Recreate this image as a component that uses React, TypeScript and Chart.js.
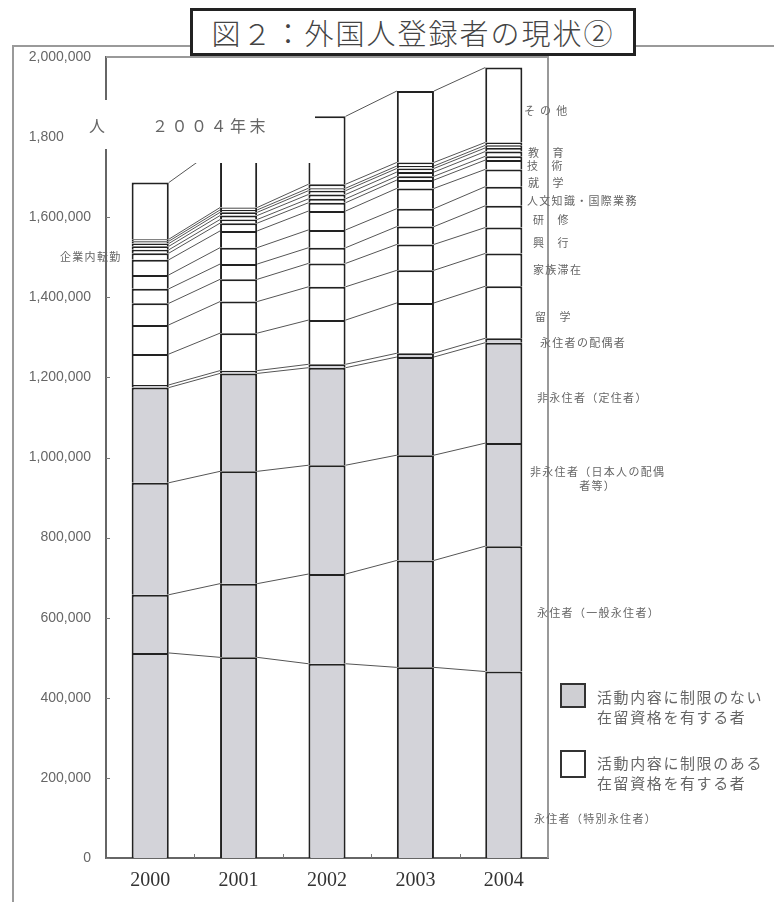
import React, { useEffect, useRef } from 'react';
import { Chart, registerables } from 'chart.js';
Chart.register(...registerables);

const years = ['2000', '2001', '2002', '2003', '2004'];
// 活動内容に制限のない在留資格 (gray)
const tokubetsuEijusha = [512000, 501000, 485000, 476000, 465600];
const ippanEijusha = [145300, 184000, 224000, 267000, 313000];
const nihonjinHaigusha = [279600, 280400, 271700, 262800, 257300];
const teijusha = [237600, 244500, 243500, 245100, 250700];
const eijushaHaigusha = [6700, 7000, 8500, 9400, 11100];
// 活動内容に制限のある在留資格 (white)
const ryugaku = [77000, 93600, 110400, 125600, 129900];
const kazokuTaizai = [72900, 78800, 83100, 81500, 81900];
const kogyo = [53800, 55500, 58400, 64600, 64700];
const kenshu = [36200, 38200, 39100, 44500, 54300];
const jinbun = [34700, 40900, 44500, 44900, 47700];
const shugaku = [37800, 41800, 47200, 50500, 43200];
const gijutsu = [16500, 19400, 20700, 20800, 23200];
const kyoiku = [8400, 9100, 9700, 9400, 9400];
const kigyonai = [8700, 9900, 10900, 10600, 12000];
const gino = [7000, 8000, 9500, 9000, 9000];
const toshiKeiei = [5700, 6000, 6100, 6100, 6400];
const tokuteiKatsudo = [5000, 6000, 10000, 9000, 7300];
const sonota = [141500, 154300, 169500, 178200, 187000];

const yTicks = [0, 200000, 400000, 600000, 800000, 1000000, 1200000, 1400000, 1600000, 1800000, 2000000];

const GRAY = '#d3d3d9';
const WHITE = '#ffffff';

const seriesList: { label: string; data: number[]; fill: string }[] = [
  { label: '永住者（特別永住者）', data: tokubetsuEijusha, fill: GRAY },
  { label: '永住者（一般永住者）', data: ippanEijusha, fill: GRAY },
  { label: '非永住者（日本人の配偶者等）', data: nihonjinHaigusha, fill: GRAY },
  { label: '非永住者（定住者）', data: teijusha, fill: GRAY },
  { label: '永住者の配偶者', data: eijushaHaigusha, fill: GRAY },
  { label: '留学', data: ryugaku, fill: WHITE },
  { label: '家族滞在', data: kazokuTaizai, fill: WHITE },
  { label: '興行', data: kogyo, fill: WHITE },
  { label: '研修', data: kenshu, fill: WHITE },
  { label: '人文知識・国際業務', data: jinbun, fill: WHITE },
  { label: '就学', data: shugaku, fill: WHITE },
  { label: '技術', data: gijutsu, fill: WHITE },
  { label: '教育', data: kyoiku, fill: WHITE },
  { label: '企業内転勤', data: kigyonai, fill: WHITE },
  { label: '技能', data: gino, fill: WHITE },
  { label: '投資・経営', data: toshiKeiei, fill: WHITE },
  { label: '特定活動', data: tokuteiKatsudo, fill: WHITE },
  { label: 'その他', data: sonota, fill: WHITE },
];

const rightLabels: { text: string; x: number; y: number }[] = [
  { text: 'そ の 他', x: 524, y: 110 },
  { text: '教　育', x: 528, y: 152 },
  { text: '技　術', x: 527, y: 165 },
  { text: '就　学', x: 528, y: 182 },
  { text: '人文知識・国際業務', x: 527, y: 200 },
  { text: '研　修', x: 533, y: 219 },
  { text: '興　行', x: 533, y: 242 },
  { text: '家族滞在', x: 533, y: 269 },
  { text: '留　学', x: 535, y: 316 },
  { text: '永住者の配偶者', x: 540, y: 342 },
  { text: '非永住者（定住者）', x: 537, y: 397 },
  { text: '永住者（一般永住者）', x: 537, y: 612 },
  { text: '永住者（特別永住者）', x: 534, y: 818 },
  { text: '企業内転勤', x: 60, y: 256 },
];

const decorPlugin = {
  id: 'decor',
  afterDatasetsDraw(chart: any) {
    const ctx = chart.ctx as CanvasRenderingContext2D;
    const area = chart.chartArea;
    ctx.save();
    // connectors between bars at every segment boundary
    ctx.strokeStyle = '#555';
    ctx.lineWidth = 1;
    chart.data.datasets.forEach((_: any, di: number) => {
      const meta = chart.getDatasetMeta(di);
      for (let i = 0; i < meta.data.length - 1; i++) {
        const a: any = meta.data[i];
        const b: any = meta.data[i + 1];
        ctx.beginPath();
        ctx.moveTo(a.x + a.width / 2, a.y);
        ctx.lineTo(b.x - b.width / 2, b.y);
        ctx.stroke();
      }
    });
    // inner y ticks
    const ys = chart.scales.y;
    ctx.strokeStyle = '#777';
    ctx.beginPath();
    yTicks.forEach((v) => {
      const py = Math.round(ys.getPixelForValue(v)) + 0.5;
      ctx.moveTo(area.left, py);
      ctx.lineTo(area.left + 4, py);
    });
    // inner x ticks between categories
    const xs = chart.scales.x;
    for (let i = 0; i < years.length - 1; i++) {
      const px = Math.round((xs.getPixelForValue(i) + xs.getPixelForValue(i + 1)) / 2) + 0.5;
      ctx.moveTo(px, area.bottom);
      ctx.lineTo(px, area.bottom - 4);
    }
    ctx.stroke();
    // frame top & right
    ctx.strokeStyle = '#999';
    ctx.lineWidth = 2;
    ctx.beginPath();
    ctx.moveTo(area.left, area.top);
    ctx.lineTo(area.right, area.top);
    ctx.lineTo(area.right, area.bottom);
    ctx.stroke();
    ctx.restore();
  },
};

const labelStyle: React.CSSProperties = {
  position: 'absolute',
  transform: 'translateY(-50%)',
  whiteSpace: 'nowrap',
  fontFamily: '"Noto Sans CJK JP", sans-serif',
  fontSize: 11,
  letterSpacing: '1.3px',
  color: '#666',
  lineHeight: '14px',
};

export default function App() {
  const canvasRef = useRef<HTMLCanvasElement>(null);

  useEffect(() => {
    if (!canvasRef.current) return;
    const chart = new Chart(canvasRef.current, {
      type: 'bar',
      data: {
        labels: years,
        datasets: seriesList.map((s) => ({
          label: s.label,
          data: s.data,
          backgroundColor: s.fill,
          borderColor: '#222',
          borderWidth: { top: 2, left: 2, right: 2, bottom: 0 } as any,
          borderSkipped: 'start' as any,
          barPercentage: 0.42,
          categoryPercentage: 1,
        })),
      },
      options: {
        responsive: false,
        animation: false,
        devicePixelRatio: 1,
        layout: { padding: { left: 12, top: 57, right: 226, bottom: 4 } },
        plugins: { legend: { display: false }, tooltip: { enabled: false } },
        scales: {
          x: {
            stacked: true,
            grid: { display: false, drawTicks: false },
            border: { display: true, color: '#666', width: 2 },
            ticks: { color: '#333', font: { family: '"Liberation Serif", serif', size: 20 }, padding: 11 },
            afterFit: (s: any) => {
              s.height = 40;
            },
          },
          y: {
            stacked: true,
            min: 0,
            max: 2000000,
            grid: { display: false, drawTicks: false },
            border: { display: true, color: '#666', width: 2 },
            ticks: {
              stepSize: 200000,
              color: '#666',
              padding: 15,
              font: { family: '"Liberation Sans", Arial, sans-serif', size: 14 },
              callback: (v: any) => Number(v).toLocaleString('en-US'),
            },
            afterFit: (s: any) => {
              s.width = 94;
            },
          },
        },
      },
      plugins: [decorPlugin],
    });
    return () => chart.destroy();
  }, []);

  return (
    <div style={{ position: 'absolute', left: 0, top: 0, width: 774, height: 902, background: '#fff', overflow: 'hidden' }}>
      <canvas ref={canvasRef} width={774} height={902} style={{ position: 'absolute', left: 0, top: 0 }} />
      {/* outer frame */}
      <div style={{ position: 'absolute', left: 12, top: 45, width: 900, height: 900, borderLeft: '2px solid #9a9a9a', borderTop: '2px solid #9a9a9a' }} />
      {/* white overlay with note */}
      <div style={{ position: 'absolute', left: 64, top: 100, width: 48, height: 49, background: '#fff' }} />
      <div style={{ position: 'absolute', left: 112, top: 100, width: 203, height: 63, background: '#fff' }} />
      <div style={{ ...labelStyle, left: 89, top: 125, fontSize: 16, letterSpacing: '0px', lineHeight: '18px' }}>人</div>
      <div style={{ ...labelStyle, left: 152, top: 125, fontSize: 16, letterSpacing: '3.5px', lineHeight: '18px' }}>２００４年末</div>
      {/* title */}
      <div
        style={{
          position: 'absolute',
          left: 190,
          top: 8,
          width: 446,
          height: 48,
          boxSizing: 'border-box',
          border: '3px solid #222',
          background: '#fff',
          textAlign: 'center',
          fontFamily: '"Noto Sans CJK JP", sans-serif',
          fontWeight: 300,
          fontSize: 29,
          letterSpacing: '2px',
          lineHeight: '42px',
          color: '#444',
          whiteSpace: 'nowrap',
        }}
      >
        図２：外国人登録者の現状②
      </div>
      {/* category labels */}
      {rightLabels.map((l) => (
        <div key={l.text} style={{ ...labelStyle, left: l.x, top: l.y }}>
          {l.text}
        </div>
      ))}
      <div style={{ ...labelStyle, left: 530, top: 478, textAlign: 'center' }}>
        非永住者（日本人の配偶
        <br />
        者等）
      </div>
      {/* legend */}
      <div style={{ position: 'absolute', left: 560, top: 683, width: 26, height: 25, boxSizing: 'border-box', border: '2px solid #333', background: '#cfcfd3' }} />
      <div style={{ ...labelStyle, left: 597, top: 707, fontSize: 15, letterSpacing: '1.6px', lineHeight: '20px' }}>
        活動内容に制限のない
        <br />
        在留資格を有する者
      </div>
      <div style={{ position: 'absolute', left: 560, top: 750, width: 26, height: 28, boxSizing: 'border-box', border: '2px solid #333', background: '#fff' }} />
      <div style={{ ...labelStyle, left: 597, top: 773, fontSize: 15, letterSpacing: '1.6px', lineHeight: '20px' }}>
        活動内容に制限のある
        <br />
        在留資格を有する者
      </div>
    </div>
  );
}
